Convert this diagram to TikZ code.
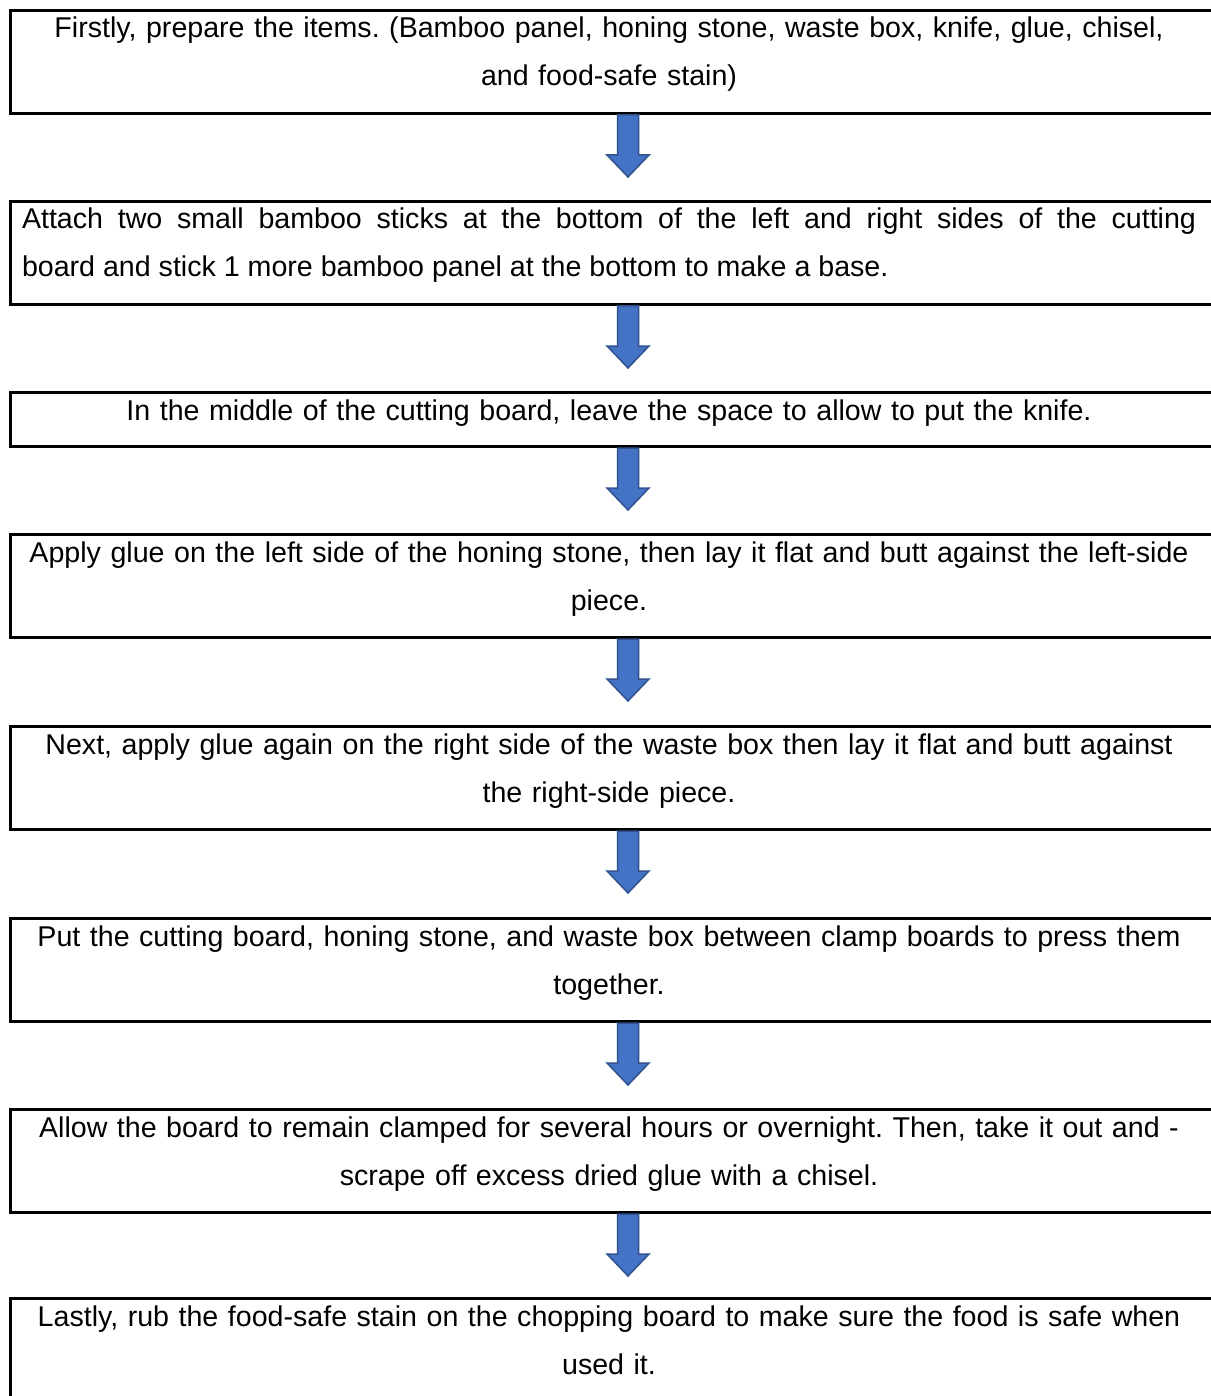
\documentclass[tikz,border=0pt]{standalone}
\usepackage{fontspec}
\setmainfont{Liberation Sans}
\frenchspacing
\definecolor{arrowfill}{HTML}{4472C4}
\definecolor{arrowedge}{HTML}{2F528F}
\tikzset{
  stepbox/.style={draw=black, line width=3pt, minimum width=1205pt, inner sep=0pt, anchor=north west},
  steptext/.style={text width=1174pt, align=center, inner sep=0pt, anchor=base,
    font=\fontsize{28.6}{48}\selectfont},
  flowarrow/.style={fill=arrowfill, draw=arrowedge, line width=1.5pt, line join=miter},
}
\newcommand{\downarrowshape}[1]{%
  \draw[flowarrow] ([xshift=-10.5pt]#1) -- ++(0,40) -- ++(-10.5,0) -- ++(21,22) -- ++(21,-22) -- ++(-10.5,0) -- ++(0,-40) -- cycle;}
\begin{document}
\begin{tikzpicture}[x=1pt,y=-1pt]
\useasboundingbox (0,0) rectangle (1210,1396);
\fill[white] (0,0) rectangle (1210,1396);
\coordinate (col) at (628,0);
% boxes
\node[stepbox, minimum height=103pt] (b1) at (8.5,9) {};
\node[stepbox, minimum height=103pt] (b2) at (8.5,200) {};
\node[stepbox, minimum height=54pt]  (b3) at (8.5,391) {};
\node[stepbox, minimum height=103pt] (b4) at (8.5,533) {};
\node[stepbox, minimum height=103pt] (b5) at (8.5,725) {};
\node[stepbox, minimum height=103pt] (b6) at (8.5,917) {};
\node[stepbox, minimum height=103pt] (b7) at (8.5,1108) {};
\node[stepbox, minimum height=140pt] (b8) at (8.5,1297) {};
% texts
\node[steptext] (t1) at (609,38) {Firstly, prepare the items. (Bamboo panel, honing stone, waste box, knife, glue, chisel,\\ and food-safe stain)};
\node[steptext, align=justify] (t2) at (609,229) {Attach two small bamboo sticks at the bottom of the left and right sides of the cutting\linebreak board and stick 1 more bamboo panel at the bottom to make a base.};
\node[steptext] (t3) at (609,420) {In the middle of the cutting board, leave the space to allow to put the knife.};
\node[steptext] (t4) at (609,562) {Apply glue on the left side of the honing stone, then lay it flat and butt against the left-side\\ piece.};
\node[steptext] (t5) at (609,754) {Next, apply glue again on the right side of the waste box then lay it flat and butt against\\ the right-side piece.};
\node[steptext] (t6) at (609,946) {Put the cutting board, honing stone, and waste box between clamp boards to press them\\ together.};
\node[steptext] (t7) at (609,1137) {Allow the board to remain clamped for several hours or overnight. Then, take it out and -\\ scrape off excess dried glue with a chisel.};
\node[steptext] (t8) at (609,1326) {Lastly, rub the food-safe stain on the chopping board to make sure the food is safe when\\ used it.};
% arrows
\downarrowshape{b1.south -| col}
\downarrowshape{b2.south -| col}
\downarrowshape{b3.south -| col}
\downarrowshape{b4.south -| col}
\downarrowshape{b5.south -| col}
\downarrowshape{b6.south -| col}
\downarrowshape{b7.south -| col}
\end{tikzpicture}
\end{document}
